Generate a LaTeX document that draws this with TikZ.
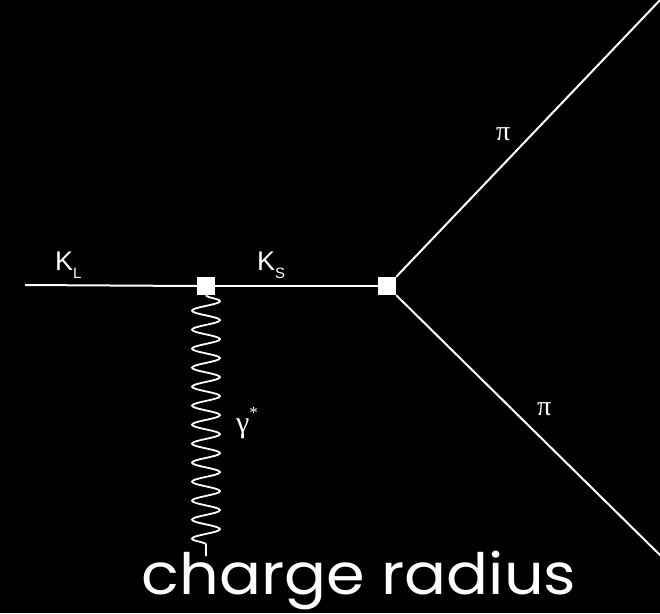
\documentclass[tikz,border=0pt]{standalone}
\usepackage{fontspec}
\setmainfont{Liberation Sans}
\newfontfamily\greekfont{Liberation Serif}
\newfontfamily\titlefont{Poppins}
\usetikzlibrary{decorations.pathmorphing}
\begin{document}
\begin{tikzpicture}[x=1pt,y=-1pt,
  line/.style={draw=white,line width=2pt},
  vtx/.style={rectangle,fill=white,draw=none,minimum size=18pt,inner sep=0pt},
  photon/.style={draw=white,line width=1.8pt,decorate,decoration={snake,amplitude=14pt,segment length=19pt,post length=3pt}},
  lbl/.style={text=white,inner sep=0pt}]
\fill[black] (0,0) rectangle (660,613);
\useasboundingbox (0,0) rectangle (660,613);
\coordinate (a) at (25,285);
\coordinate (b) at (662,-2);
\coordinate (c) at (662,557);
\coordinate (d) at (206,556);
\node[vtx] (v1) at (206,286) {};
\node[vtx] (v2) at (387,286) {};
\draw[line] (a) -- (v1.west);
\draw[line] (v1.east) -- (v2.west);
\draw[line] (v2.north east) -- (b);
\draw[line] (v2.south east) -- (c);
\draw[photon] (v1.south) -- (d);
\node[lbl,anchor=base west] (kl) at (55,270) {\fontsize{27}{27}\selectfont K\raisebox{-8pt}{\fontsize{15}{15}\selectfont L}};
\node[lbl,anchor=base west] (ks) at (257,270) {\fontsize{27}{27}\selectfont K\raisebox{-8pt}{\fontsize{15}{15}\selectfont S}};
\node[lbl,anchor=base west] (pi1) at (496,140) {\greekfont\fontsize{28}{28}\selectfont π};
\node[lbl,anchor=base west] (pi2) at (537,415) {\greekfont\fontsize{28}{28}\selectfont π};
\node[lbl,anchor=base west] (gam) at (236,432) {\greekfont\fontsize{30}{30}\selectfont γ\raisebox{14pt}{\fontsize{17}{17}\selectfont *}};
\node[lbl,anchor=base,xscale=1.09] (title) at (359,594) {\titlefont\fontsize{57}{57}\selectfont charge radius};
\end{tikzpicture}
\end{document}
